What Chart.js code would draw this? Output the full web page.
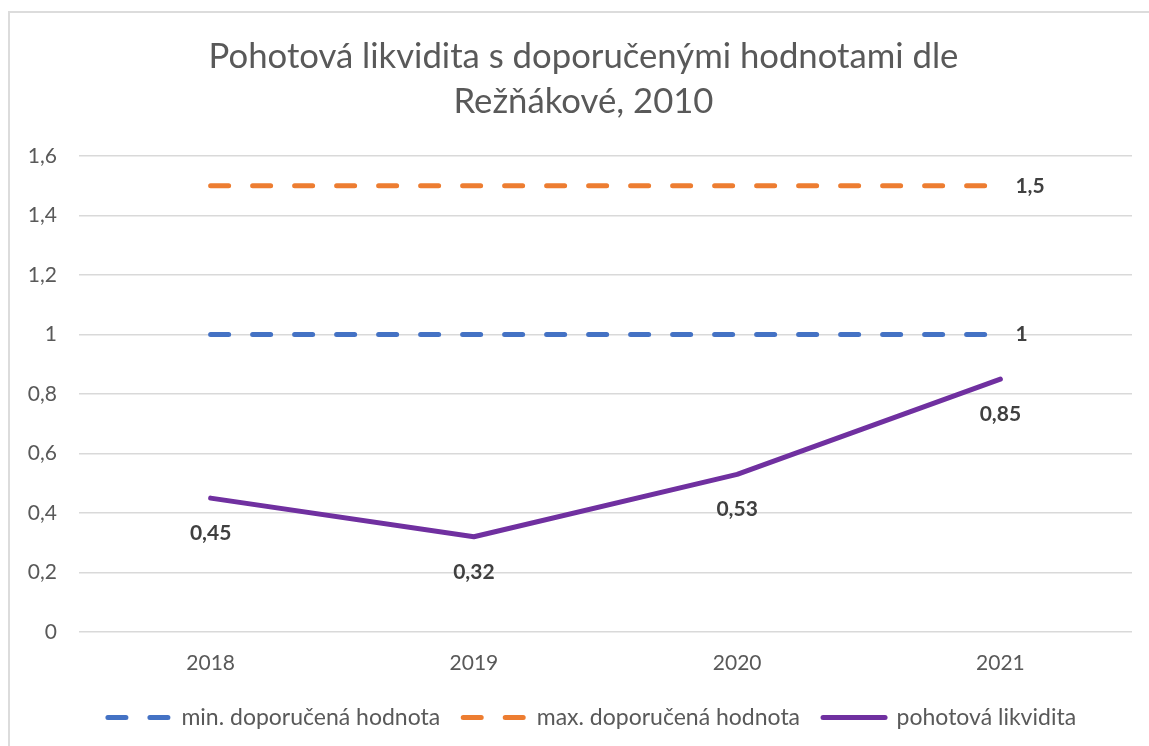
<!DOCTYPE html>
<html lang="cs">
<head>
<meta charset="UTF-8">
<title>Pohotová likvidita</title>
<script src="https://cdn.jsdelivr.net/npm/chart.js"></script>
<style>
  html, body { margin: 0; padding: 0; background: #fff; }
  .frame {
    position: absolute; left: 0; top: 0; width: 1149px; height: 746px;
  }
  .border {
    position: absolute; left: 8px; top: 11px; width: 1200px; height: 800px;
    border-left: 2px solid #dcdcdc; border-top: 2px solid #dcdcdc;
  }
  canvas { position: absolute; left: 0; top: 0; }
</style>
</head>
<body>
<div class="frame">
  <div class="border"></div>
  <canvas id="chart" width="1149" height="746"></canvas>
</div>
<script>
// data
const years = ['2018', '2019', '2020', '2021'];
const minDoporucena = [1, 1, 1, 1];
const maxDoporucena = [1.5, 1.5, 1.5, 1.5];
const pohotovaLikvidita = [0.45, 0.32, 0.53, 0.85];
const seriesNames = ['min. doporučená hodnota', 'max. doporučená hodnota', 'pohotová likvidita'];
const titleLines = ['Pohotová likvidita s doporučenými hodnotami dle', 'Režňákové, 2010'];

const FONT = 'Lato, "Open Sans", sans-serif';
const fmt = v => String(Math.round(v * 100) / 100).replace('.', ',');

// value labels: last point of the reference lines on the right, all points of the line below
const labelPlugin = {
  id: 'valueLabels',
  afterDatasetsDraw(chart) {
    const ctx = chart.ctx;
    ctx.save();
    ctx.font = 'bold 21px ' + FONT;
    ctx.fillStyle = '#404040';
    ctx.textBaseline = 'middle';
    chart.data.datasets.forEach((ds, i) => {
      const meta = chart.getDatasetMeta(i);
      meta.data.forEach((pt, j) => {
        if (ds.labelMode === 'last') {
          if (j !== ds.data.length - 1) return;
          ctx.textAlign = 'left';
          ctx.fillText(fmt(ds.data[j]), pt.x + 15, pt.y);
        } else {
          ctx.textAlign = 'center';
          ctx.fillText(fmt(ds.data[j]), pt.x, pt.y + 35);
        }
      });
    });
    ctx.restore();
  }
};

// excel centres title and legend a bit further right than the plot box
const shiftPlugin = {
  id: 'shiftBlocks',
  afterLayout(chart) {
    chart.titleBlock.left += 35;
    chart.legend.left += 52;
  }
};

new Chart(document.getElementById('chart'), {
  type: 'line',
  data: {
    labels: years,
    datasets: [
      {
        label: seriesNames[0], data: minDoporucena, labelMode: 'last',
        borderColor: '#4472C4', backgroundColor: '#4472C4',
        borderWidth: 5, borderDash: [18, 24], borderCapStyle: 'round'
      },
      {
        label: seriesNames[1], data: maxDoporucena, labelMode: 'last',
        borderColor: '#ED7D31', backgroundColor: '#ED7D31',
        borderWidth: 5, borderDash: [18, 24], borderCapStyle: 'round'
      },
      {
        label: seriesNames[2], data: pohotovaLikvidita, labelMode: 'below',
        borderColor: '#7030A0', backgroundColor: '#7030A0',
        borderWidth: 5, borderCapStyle: 'round', borderJoinStyle: 'round'
      }
    ]
  },
  options: {
    responsive: false,
    animation: false,
    events: [],
    elements: { point: { radius: 0 }, line: { tension: 0 } },
    layout: { padding: { top: 34, right: 17, bottom: 7, left: 0 } },
    plugins: {
      title: {
        display: true, text: titleLines, color: '#595959',
        font: { family: FONT, size: 34.7, weight: 'normal', lineHeight: 1.297 },
        padding: { top: 0, bottom: 32 }
      },
      legend: {
        position: 'bottom',
        labels: {
          color: '#595959', font: { family: FONT, size: 23 },
          usePointStyle: true, pointStyle: 'line', pointStyleWidth: 62,
          boxHeight: 23, padding: 23,
          generateLabels: chart => {
            const items = Chart.defaults.plugins.legend.labels.generateLabels(chart);
            items.forEach(it => {
              const ds = chart.data.datasets[it.datasetIndex];
              it.lineDash = ds.borderDash || [];
              it.lineCap = 'round';
              it.lineWidth = ds.borderWidth;
              it.strokeStyle = ds.borderColor;
            });
            return items;
          }
        }
      },
      tooltip: { enabled: false }
    },
    scales: {
      x: {
        offset: true,
        afterFit: s => { s.height = 51; },
        grid: { display: false, drawTicks: false },
        border: { display: false },
        ticks: { color: '#595959', font: { family: FONT, size: 21 }, padding: 19 }
      },
      y: {
        min: 0, max: 1.6,
        afterFit: s => { s.width = 79; },
        grid: { color: '#d9d9d9', lineWidth: 1.5, drawTicks: false },
        border: { display: false },
        ticks: { stepSize: 0.2, color: '#595959', font: { family: FONT, size: 21 }, padding: 22, callback: v => fmt(v) }
      }
    }
  },
  plugins: [labelPlugin, shiftPlugin]
});
</script>
</body>
</html>
